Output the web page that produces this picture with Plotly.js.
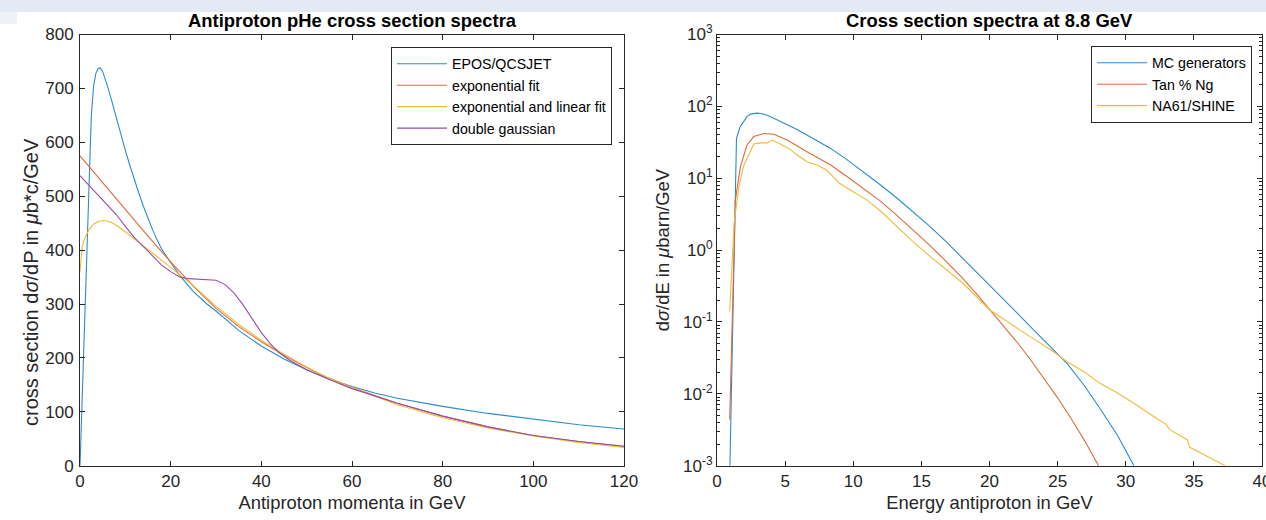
<!DOCTYPE html>
<html>
<head>
<meta charset="utf-8">
<script src="https://cdn.plot.ly/plotly-3.0.1.min.js"></script>
<style>
  html, body { margin: 0; padding: 0; background: #ffffff; }
  #chart { width: 1266px; height: 520px; }
</style>
</head>
<body>
<div id="chart"></div>
<script>
// ---------- Left panel: Antiproton pHe cross section spectra ----------
const eposX = [0, 1, 2, 2.5, 3, 3.5, 4, 4.5, 5, 5.5, 6, 7, 8, 9, 10, 11, 12, 13, 14, 15, 16, 17, 18, 20, 22, 25, 28, 30, 35, 40, 45, 50, 55, 60, 65, 70, 75, 80, 90, 100, 110, 120];
const eposY = [0, 255, 545, 650, 705, 728, 737, 738, 731, 720, 706, 677, 645, 614, 585, 557, 530, 505, 481, 459, 438, 419, 402, 377, 353, 323, 300, 287, 251, 222, 198, 178, 161, 147, 135, 125, 117, 110, 97, 86, 76, 68];

const expX = [0, 5, 10, 15, 20, 25, 30, 35, 40, 45, 50, 55, 60, 70, 80, 90, 100, 110, 120];
const expY = [575, 525, 475, 426, 378, 333, 292, 258, 230, 205, 182, 162, 145, 116, 92, 72, 56, 45, 36];

const expLinX = [0, 0.25, 0.5, 1, 1.5, 2, 3, 4, 5, 6, 7, 8, 10, 12, 14, 16, 18, 20, 22, 25, 28, 30, 35, 40, 45, 50, 55, 60, 70, 80, 90, 100, 110, 120];
const expLinY = [360, 392, 408, 421, 431, 438, 448, 453, 455, 454, 451, 446, 434, 421, 408, 395, 381, 368, 354, 334, 311, 296, 262, 233, 207, 183, 162, 145, 113, 89, 70, 55, 43, 34];

const gaussX = [0, 2, 5, 8, 10, 12, 15, 18, 20, 22, 24, 26, 28, 30, 32, 34, 36, 38, 40, 42, 44, 46, 50, 55, 60, 70, 80, 90, 100, 110, 120];
const gaussY = [538, 520, 493, 466, 444, 423, 398, 372, 360, 350, 347, 346, 346, 344, 336, 320, 298, 272, 247, 226, 209, 197, 178, 160, 143, 116, 92, 72, 56, 45, 36];

const leftNames = ["EPOS/QCSJET", "exponential fit", "exponential and linear fit", "double gaussian"];
const leftXTicks = [0, 20, 40, 60, 80, 100, 120];
const leftYTicks = [0, 100, 200, 300, 400, 500, 600, 700, 800];

// ---------- Right panel: Cross section spectra at 8.8 GeV ----------
const mcX = [0.95, 1.43, 1.7, 1.96, 2.2, 2.45, 2.7, 2.94, 3.3, 3.68, 4.2, 4.66, 5.3, 5.88, 6.5, 7.1, 7.7, 8.34, 9.56, 10.8, 12.0, 13.2, 14.4, 15.6, 16.8, 18.0, 19.4, 20.8, 22.0, 23.2, 24.5, 25.7, 26.9, 28.1, 29.4, 30.6];
const mcY = [0.001, 36, 52, 63, 72, 78, 80, 80.5, 79, 75, 68, 62, 54, 47.5, 41, 35.5, 30.5, 26, 18, 12.0, 8.04, 5.31, 3.43, 2.16, 1.32, 0.785, 0.427, 0.229, 0.135, 0.079, 0.0447, 0.0263, 0.0135, 0.0063, 0.00263, 0.001];

const tanX = [0.93, 1.35, 1.72, 2.2, 2.7, 3.43, 4.17, 5.15, 6.6, 7.4, 8.34, 9.56, 10.8, 12.0, 13.2, 14.4, 15.6, 16.8, 18.0, 19.0, 20.0, 21.0, 22.0, 23.0, 24.0, 25.0, 26.0, 27.0, 28.0];
const tanY = [0.0044, 5, 14.5, 29, 38, 42, 41, 34, 23.4, 19.2, 15.3, 10.5, 7.0, 4.8, 3.05, 1.9, 1.17, 0.7, 0.41, 0.252, 0.15, 0.09, 0.053, 0.03, 0.0165, 0.0088, 0.0045, 0.0022, 0.001];

const naX = [0.93, 1.25, 1.6, 1.96, 2.33, 2.7, 3.19, 3.68, 4.04, 4.66, 5.4, 5.88, 6.6, 7.35, 8.04, 9.0, 10.0, 11.0, 12.0, 13.2, 14.4, 15.7, 16.9, 18.1, 20.0, 21.5, 23.0, 24.5, 25.7, 27.0, 28.1, 29.3, 30.6, 31.8, 33.0, 33.2, 34.5, 34.7, 36.0, 37.3];
const naY = [0.14, 2.3, 7.6, 15, 21, 30, 31, 31, 34, 30, 25, 21, 17, 15.3, 13, 8.5, 6.5, 5.0, 3.5, 2.1, 1.3, 0.8, 0.52, 0.34, 0.148, 0.095, 0.062, 0.041, 0.028, 0.02, 0.014, 0.0105, 0.0074, 0.0052, 0.0037, 0.0032, 0.0023, 0.0018, 0.00135, 0.001];

const rightNames = ["MC generators", "Tan % Ng", "NA61/SHINE"];
const rightXTicks = [0, 5, 10, 15, 20, 25, 30, 35, 40];
const rightYTicks = [1e-3, 1e-2, 1e-1, 1e0, 1e1, 1e2, 1e3];
const rightYTickText = ["10<sup>-3</sup>", "10<sup>-2</sup>", "10<sup>-1</sup>", "10<sup>0</sup>", "10<sup>1</sup>", "10<sup>2</sup>", "10<sup>3</sup>"];

// ---------- styling ----------
const colors = ["#2a8ad0", "#e0693a", "#efbb3a", "#9550a5"];
const FONT = "Liberation Sans, Arial, Helvetica, sans-serif";
const AX = "#262626";
const W = 1266, H = 520;
const px = v => v / W;
const py = v => 1 - v / H;

const lw = 1.1;
const traces = [
  {x: eposX, y: eposY, name: leftNames[0], line: {color: colors[0], width: lw}},
  {x: expX, y: expY, name: leftNames[1], line: {color: colors[1], width: lw}},
  {x: expLinX, y: expLinY, name: leftNames[2], line: {color: colors[2], width: lw}},
  {x: gaussX, y: gaussY, name: leftNames[3], line: {color: colors[3], width: lw}},
  {x: mcX, y: mcY, name: rightNames[0], xaxis: "x2", yaxis: "y2", legend: "legend2", line: {color: colors[0], width: lw}},
  {x: tanX, y: tanY, name: rightNames[1], xaxis: "x2", yaxis: "y2", legend: "legend2", line: {color: colors[1], width: lw}},
  {x: naX, y: naY, name: rightNames[2], xaxis: "x2", yaxis: "y2", legend: "legend2", line: {color: colors[2], width: lw}}
].map(t => Object.assign({type: "scatter", mode: "lines", hoverinfo: "skip"}, t));

const yDom = [py(465.7), py(34.5)];
const common = {
  showline: true, linecolor: AX, linewidth: 1, mirror: "ticks",
  ticks: "inside", ticklen: 5, tickcolor: AX, tickwidth: 1,
  showgrid: false, zeroline: false,
  tickfont: {family: FONT, size: 17, color: AX},
  ticklabeloverflow: "allow",
  fixedrange: true
};
const titleFont = {family: FONT, size: 18.4, color: AX};

const layout = {
  width: W, height: H,
  margin: {l: 0, r: 0, t: 0, b: 0},
  paper_bgcolor: "#ffffff", plot_bgcolor: "#ffffff",
  font: {family: FONT, color: AX},
  xaxis: Object.assign({}, common, {
    domain: [px(80), px(624)], range: [0, 120], anchor: "y",
    tickmode: "array", tickvals: leftXTicks,
    title: {text: "Antiproton momenta in GeV", font: titleFont, standoff: 6}
  }),
  yaxis: Object.assign({}, common, {
    domain: yDom, range: [0, 800], anchor: "x",
    tickmode: "array", tickvals: leftYTicks, ticklabelstandoff: 2
  }),
  xaxis2: Object.assign({}, common, {
    domain: [px(717), px(1262)], range: [0, 40], anchor: "y2",
    tickmode: "array", tickvals: rightXTicks,
    title: {text: "Energy antiproton in GeV", font: titleFont, standoff: 6}
  }),
  yaxis2: Object.assign({}, common, {
    domain: yDom, type: "log", range: [-3, 3], anchor: "x2",
    tickmode: "array", tickvals: rightYTicks, ticktext: rightYTickText,
    minor: {dtick: "D1", ticks: "inside", ticklen: 3, tickcolor: AX, showgrid: false},
    title: {text: "d<i>σ</i>/dE in <i>μ</i>barn/GeV", font: titleFont, standoff: 8}
  }),
  legend: {
    x: px(612), y: py(47), xanchor: "right", yanchor: "top",
    bgcolor: "#ffffff", bordercolor: AX, borderwidth: 1,
    font: {family: FONT, size: 14.2, color: "#000000"},
    itemwidth: 50, tracegroupgap: 0
  },
  legend2: {
    x: px(1252), y: py(46), xanchor: "right", yanchor: "top",
    bgcolor: "#ffffff", bordercolor: AX, borderwidth: 1,
    font: {family: FONT, size: 14.2, color: "#000000"},
    itemwidth: 50, tracegroupgap: 0
  },
  showlegend: true,
  annotations: [
    {text: "<b>Antiproton pHe cross section spectra</b>", x: px(352), y: py(21), xref: "paper", yref: "paper",
     xanchor: "center", yanchor: "middle", showarrow: false, font: {family: FONT, size: 18.4, color: "#000000"}},
    {text: "<b>Cross section spectra at 8.8 GeV</b>", x: px(989.5), y: py(21), xref: "paper", yref: "paper",
     xanchor: "center", yanchor: "middle", showarrow: false, font: {family: FONT, size: 18.4, color: "#000000"}},
    {text: "cross section d<i>σ</i>/dP in <i>μ</i>b*c/GeV", x: px(31), y: py(282), xref: "paper", yref: "paper",
     xanchor: "center", yanchor: "middle", textangle: -90, showarrow: false, font: {family: FONT, size: 20, color: AX}}
  ],
  shapes: [
    {type: "rect", xref: "paper", yref: "paper", x0: 0, x1: 1, y0: py(12), y1: 1, fillcolor: "#e4eaf4", line: {width: 0}, layer: "below"},
    {type: "rect", xref: "paper", yref: "paper", x0: 0, x1: px(17), y0: py(24), y1: py(12), fillcolor: "#eef2f8", line: {width: 0}, layer: "below"}
  ]
};

Plotly.newPlot("chart", traces, layout, {displayModeBar: false, staticPlot: true});
</script>
</body>
</html>
